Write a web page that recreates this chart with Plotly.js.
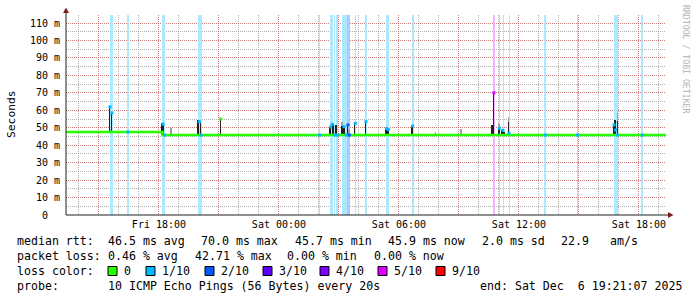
<!DOCTYPE html>
<html><head><meta charset="utf-8">
<script src="https://cdn.plot.ly/plotly-3.0.1.min.js"></script>
<style>html,body{margin:0;padding:0;background:#fff;}#chart{width:697px;height:297px;}</style>
</head><body><div id="chart"></div>
<script>
// ---------- data ----------
const xStart = '2025-12-05 13:21:07';
const xEnd = '2025-12-06 19:21:07';

// median rtt baseline (ms), step line
const baseTimes = ['05 13:21:07', '05 18:11', '06 19:21:07'];
const baseValues = [47.6, 45.8, 45.8];

// loss bands (5-minute steps), loss level in tenths
const lossTimes = ['05 15:35','05 15:40','05 16:27','05 18:12','05 18:17','05 20:01','05 20:06',
  '06 02:02','06 02:35','06 02:40','06 02:47','06 02:55','06 03:13','06 03:17','06 03:22','06 03:27','06 03:31',
  '06 03:50','06 04:21','06 05:23','06 05:28','06 06:42','06 10:44','06 10:47','06 11:02','06 11:14','06 11:32',
  '06 13:19','06 14:56','06 16:47','06 16:51','06 16:55','06 18:10'];
const lossLevels = [1,1,1,1,1,1,1,
  1,1,1,1,1,1,1,1,2,2,
  1,1,1,1,1,5,5,1,1,1,
  1,1,1,1,1,1];

// smoke (ping spread) in ms
const smokeTimes = ['05 15:32','05 15:38','05 18:09','05 18:13','05 18:36','05 19:57','05 20:04','05 21:04',
  '06 02:33','06 02:42','06 02:51','06 03:09','06 03:15','06 03:25','06 03:30','06 03:47','06 04:20',
  '06 05:21','06 05:27','06 06:39','06 07:50','06 09:06','06 10:39','06 10:44','06 11:00','06 11:09','06 11:15','06 11:28',
  '06 16:43','06 16:48','06 16:55'];
const smokeLow = [47.6,47.6,45.8,45.8,45.8,45.8,45.8,45.8,
  45.8,45.8,45.8,45.8,45.8,45.8,45.8,45.8,45.8,
  45.8,45.8,45.8,45.8,45.8,45.8,45.8,45.8,45.8,45.8,45.8,
  45.8,45.8,45.8];
const smokeInner = [62,59,52.5,52,45.8,54.4,53,55.4,
  50.5,52,51.6,51,50.6,51.6,45.8,53,54,
  49.7,49,51.2,45.8,45.8,51.6,70.3,50,48.7,47.7,53.5,
  51.6,54.4,54];
const smokeOuter = [62,59,52.5,52,50,54.4,53,55.4,
  50.5,52,51.6,53.3,50.6,51.6,49,53,54,
  49.7,49,51.2,47.5,49.5,51.6,70.3,52,48.7,47.7,56.3,
  51.6,54.4,58.3];

// median points with loss colour
const medTimes = ['05 15:33','05 15:39','05 16:27','05 18:12','05 18:17','05 20:01','05 20:06','05 21:05',
  '06 02:02','06 02:35','06 02:40','06 02:47','06 02:55','06 03:15','06 03:22','06 03:27','06 03:31','06 03:49',
  '06 04:21','06 05:23','06 05:28','06 06:41','06 10:45','06 11:01','06 11:12','06 11:30','06 13:19','06 14:56',
  '06 16:45','06 16:50','06 16:55','06 18:10'];
const medValues = [62,58.5,47.6,52,45.8,53.5,45.8,55,
  45.8,50.5,52,45.8,45.8,50.6,45.8,51.6,45.8,52.5,
  53.5,49.5,49,51,70,49.7,48.5,47,45.8,45.8,
  51.6,48.7,45.8,45.8];
const medLevels = [1,1,1,1,1,1,1,0,
  1,1,1,1,1,1,1,2,2,1,
  1,1,1,1,5,1,1,1,1,1,
  1,1,1,1];

const lossKeys = [0,1,2,3,4,5,9];
const lossLabels = ['0','1/10','2/10','3/10','4/10','5/10','9/10'];
const lossColors = ['#26ff00','#00b8ff','#0059ff','#5e00ff','#7e00ff','#dd00ff','#ff0000'];

const yTickVals = [0,10,20,30,40,50,60,70,80,90,100,110];
const yTickText = ['0\u00a0\u00a0','10 m','20 m','30 m','40 m','50 m','60 m','70 m','80 m','90 m','100 m','110 m'];
const xTickVals = ['2025-12-05 15:00','2025-12-05 18:00','2025-12-05 21:00','2025-12-06 00:00','2025-12-06 03:00',
  '2025-12-06 06:00','2025-12-06 09:00','2025-12-06 12:00','2025-12-06 15:00','2025-12-06 18:00'];
const xTickText = ['','Fri 18:00','','Sat 00:00','','Sat 06:00','','Sat 12:00','','Sat 18:00'];

const rowRtt = ['median rtt:','46.5 ms avg','70.0 ms max','45.7 ms min','45.9 ms now','2.0 ms sd','22.9','am/s'];
const rowLoss = ['packet loss:','0.46 % avg','42.71 % max','0.00 % min','0.00 % now'];
const rowProbe = ['probe:','10 ICMP Echo Pings (56 Bytes) every 20s','end: Sat Dec\u00a0\u00a06 19:21:07 2025'];
const lossTitle = 'loss color:';
const yTitle = 'Seconds';
const watermark = 'RRDTOOL / TOBI OETIKER';

// ---------- helpers ----------
const full = s => '2025-12-' + s;
const colorOf = lv => lossColors[lossKeys.indexOf(lv)];
function light(hex, a) {
  const n = parseInt(hex.slice(1), 16);
  const c = [(n >> 16) & 255, (n >> 8) & 255, n & 255].map(v => Math.round(255 - a * (255 - v)));
  return 'rgb(' + c.join(',') + ')';
}
const bandAlpha = lv => (lv >= 5 ? 0.3 : 0.32);
const YMAX = 114.6;
const L = 66, T = 15, W = 600, H = 200;
const px = x => (x - L) / W;
const py = y => (T + H - y) / H;
const FONT = 'DejaVu Sans Mono';
const GRID = 'rgba(143,143,143,0.7)';
const MGRID = 'rgba(222,79,79,0.55)';
const ARROW = 'rgb(128,31,31)';
const MIN5 = 5 * 60 * 1000;

// ---------- traces ----------
const traces = [];
traces.push({
  type: 'bar', x: lossTimes.map(full), y: lossTimes.map(() => YMAX), base: 0,
  width: MIN5, marker: {color: lossLevels.map(l => light(colorOf(l), bandAlpha(l))), line: {width: 0}},
  hoverinfo: 'skip'
});
traces.push({
  type: 'bar', x: smokeTimes.map(full), base: smokeLow, y: smokeOuter.map((v, i) => v - smokeLow[i]),
  width: MIN5 * 0.9, marker: {color: '#a0a0a0', line: {width: 0}}, hoverinfo: 'skip'
});
traces.push({
  type: 'bar', x: smokeTimes.map(full), base: smokeLow, y: smokeInner.map((v, i) => v - smokeLow[i]),
  width: MIN5 * 0.9, marker: {color: '#202020', line: {width: 0}}, hoverinfo: 'skip'
});
traces.push({
  type: 'scatter', mode: 'lines', x: baseTimes.map(full), y: baseValues,
  line: {color: colorOf(0), width: 2.5, shape: 'hv'}, hoverinfo: 'skip'
});
traces.push({
  type: 'scatter', mode: 'markers', x: medTimes.map(full), y: medValues,
  marker: {symbol: 'square', size: 3, color: medLevels.map(colorOf), line: {width: 0}}, hoverinfo: 'skip'
});

// ---------- annotations & shapes ----------
const ann = [];
const txt = (text, x, y, size, extra) => Object.assign({
  text: text, xref: 'paper', yref: 'paper', x: px(x), y: py(y), xanchor: 'left', yanchor: 'middle',
  showarrow: false, font: {family: FONT, size: size, color: '#000'}, borderpad: 0
}, extra || {});
const rttX = [16, 107, 200, 294, 387, 481, 560, 609];
rowRtt.forEach((t, i) => ann.push(txt(t, rttX[i], 241, 11.6)));
const lossX = [16, 107, 194, 286, 373];
rowLoss.forEach((t, i) => ann.push(txt(t, lossX[i], 256, 11.6)));
const probeX = [16, 107, 479];
rowProbe.forEach((t, i) => ann.push(txt(t, probeX[i], 286, 11.6)));
ann.push(txt(lossTitle, 16, 271, 11.6));
const boxX = [108, 146, 205, 263, 320, 378, 436];
const shapes = [];
lossLabels.forEach((lab, i) => {
  shapes.push({type: 'rect', xref: 'paper', yref: 'paper', x0: px(boxX[i]), x1: px(boxX[i] + 9),
    y0: py(266.5), y1: py(275.5), fillcolor: lossColors[i], line: {color: '#000', width: 1}});
  ann.push(txt(lab, boxX[i] + 15, 271, 11.6));
});
ann.push(txt(yTitle, 11, 114, 11.3, {xanchor: 'center', textangle: -90}));
ann.push(txt(watermark, 686, 59, 8.2, {xanchor: 'center', textangle: 90, font: {family: FONT, size: 8.2, color: '#b4b4b4'}}));

// axis lines and arrows
shapes.push({type: 'line', xref: 'paper', yref: 'paper', x0: 0, x1: 0, y0: 0, y1: py(11), line: {color: 'rgb(31,31,31)', width: 1}});
shapes.push({type: 'line', xref: 'paper', yref: 'paper', x0: 0, x1: px(670), y0: 0, y1: 0, line: {color: 'rgb(31,31,31)', width: 1}});
shapes.push({type: 'path', xref: 'paper', yref: 'paper',
  path: `M ${px(63)} ${py(13)} L ${px(69)} ${py(13)} L ${px(66)} ${py(7.5)} Z`, fillcolor: ARROW, line: {width: 0}});
shapes.push({type: 'path', xref: 'paper', yref: 'paper',
  path: `M ${px(668)} ${py(212)} L ${px(668)} ${py(218)} L ${px(673.5)} ${py(215)} Z`, fillcolor: ARROW, line: {width: 0}});

const layout = {
  width: 697, height: 297,
  margin: {l: L, r: 697 - L - W, t: T, b: 297 - T - H, pad: 0},
  paper_bgcolor: '#ffffff', plot_bgcolor: '#ffffff',
  showlegend: false, barmode: 'overlay', bargap: 0,
  font: {family: FONT, size: 10, color: '#000'},
  xaxis: {
    type: 'date', range: [xStart, xEnd], tickmode: 'array', tickvals: xTickVals, ticktext: xTickText,
    showgrid: true, gridcolor: MGRID, gridwidth: 1, griddash: '1px,1px',
    minor: {dtick: 3600000, tick0: '2025-12-05 00:00', showgrid: true, gridcolor: GRID, griddash: '1px,1px', gridwidth: 1},
    ticks: '', showline: false, zeroline: false, tickfont: {family: FONT, size: 10, color: '#000'},
    ticklabelstandoff: 2, fixedrange: true
  },
  yaxis: {
    range: [0, YMAX], tickmode: 'array', tickvals: yTickVals, ticktext: yTickText,
    showgrid: true, gridcolor: MGRID, gridwidth: 1, griddash: '1px,1px',
    minor: {dtick: 5, tick0: 0, showgrid: true, gridcolor: GRID, griddash: '1px,1px', gridwidth: 1},
    ticks: '', showline: false, zeroline: false, tickfont: {family: FONT, size: 10, color: '#000'},
    ticklabelstandoff: 5, fixedrange: true
  },
  annotations: ann, shapes: shapes
};
Plotly.newPlot('chart', traces, layout, {staticPlot: true, displayModeBar: false});
</script></body></html>
